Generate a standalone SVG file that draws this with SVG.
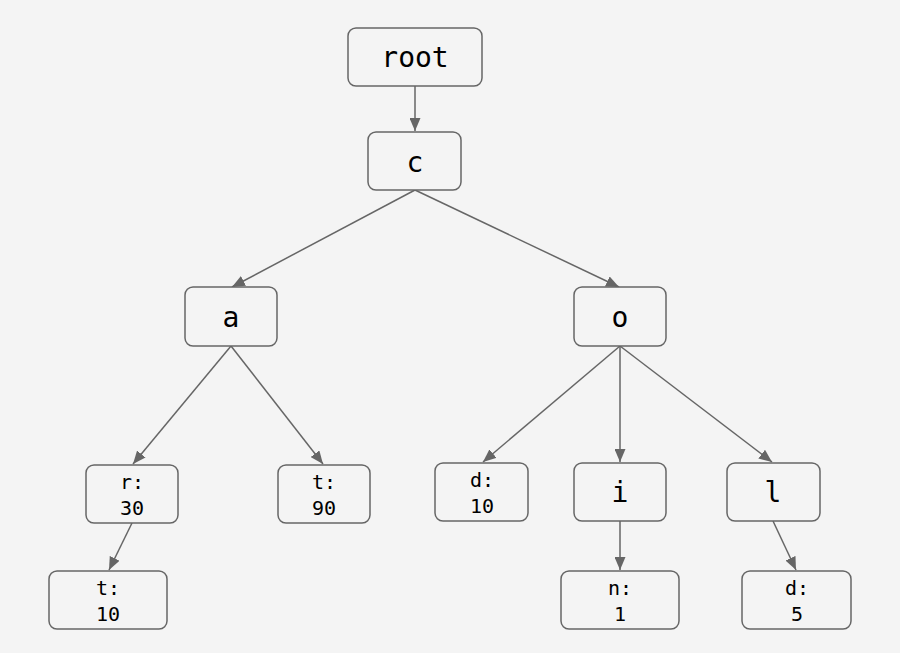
<svg xmlns="http://www.w3.org/2000/svg" width="900" height="653" viewBox="0 0 900 653">
<style>
.n rect{fill:#f4f4f4;stroke:#666;stroke-width:1.5}
.n text{font-family:"DejaVu Sans Mono","Liberation Mono",monospace;fill:#000;text-anchor:middle}
.big{font-size:28px}
.sm{font-size:20px}
.e line{stroke:#666;stroke-width:1.5;marker-end:url(#ah)}
</style>
<defs>
<marker id="ah" viewBox="0 0 13 11" refX="13" refY="5.5" markerWidth="13" markerHeight="11" markerUnits="userSpaceOnUse" orient="auto">
<path d="M0,0 L13,5.5 L0,11 z" fill="#666"/>
</marker>
</defs>
<rect width="900" height="653" fill="#f4f4f4"/>
<g class="e">
<line x1="415" y1="86" x2="415" y2="131"/>
<line x1="415" y1="190" x2="232" y2="287"/>
<line x1="415" y1="190" x2="619" y2="287"/>
<line x1="231" y1="346" x2="133" y2="464"/>
<line x1="231" y1="346" x2="323" y2="464"/>
<line x1="620" y1="346" x2="483" y2="462"/>
<line x1="620" y1="346" x2="620" y2="462"/>
<line x1="620" y1="346" x2="772" y2="462"/>
<line x1="132" y1="523" x2="109" y2="570"/>
<line x1="620" y1="521" x2="620" y2="570"/>
<line x1="773" y1="521" x2="796" y2="570"/>
</g>
<g class="n" id="root"><rect x="348" y="28" width="134" height="58" rx="8"/><text class="big" x="415" y="67">root</text></g>
<g class="n" id="c"><rect x="368" y="132" width="93" height="58" rx="8"/><text class="big" x="415" y="172">c</text></g>
<g class="n" id="a"><rect x="185" y="287" width="92" height="59" rx="8"/><text class="big" x="231" y="327">a</text></g>
<g class="n" id="o"><rect x="574" y="287" width="92" height="59" rx="8"/><text class="big" x="620" y="327">o</text></g>
<g class="n" id="r30"><rect x="86" y="465" width="92" height="58" rx="8"/><text class="sm" x="132" y="489">r:</text><text class="sm" x="132" y="515">30</text></g>
<g class="n" id="t90"><rect x="278" y="465" width="92" height="58" rx="8"/><text class="sm" x="324" y="489">t:</text><text class="sm" x="324" y="515">90</text></g>
<g class="n" id="d10"><rect x="435" y="463" width="93" height="58" rx="8"/><text class="sm" x="482" y="487">d:</text><text class="sm" x="482" y="513">10</text></g>
<g class="n" id="i"><rect x="574" y="463" width="92" height="58" rx="8"/><text class="big" x="620" y="502">i</text></g>
<g class="n" id="l"><rect x="727" y="463" width="93" height="58" rx="8"/><text class="big" x="773" y="502">l</text></g>
<g class="n" id="t10"><rect x="49" y="571" width="118" height="58" rx="8"/><text class="sm" x="108" y="595">t:</text><text class="sm" x="108" y="621">10</text></g>
<g class="n" id="n1"><rect x="561" y="571" width="118" height="58" rx="8"/><text class="sm" x="620" y="595">n:</text><text class="sm" x="620" y="621">1</text></g>
<g class="n" id="d5"><rect x="742" y="571" width="109" height="58" rx="8"/><text class="sm" x="797" y="595">d:</text><text class="sm" x="797" y="621">5</text></g>
</svg>
